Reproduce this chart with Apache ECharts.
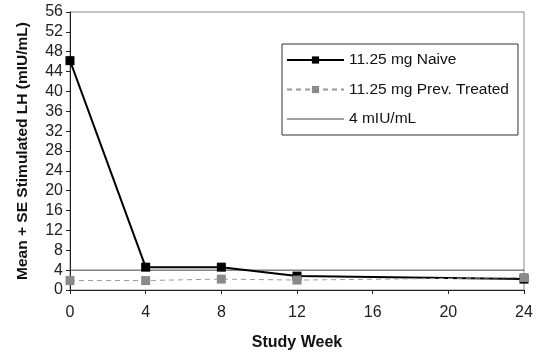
<!DOCTYPE html>
<html><head><meta charset="utf-8">
<script src="https://cdn.jsdelivr.net/npm/echarts@6/dist/echarts.min.js"></script>
<style>html,body{margin:0;padding:0;background:#fff}#c{width:542px;height:357px}</style>
</head><body><div id="c"></div>
<script>
const weeks = [0, 4, 8, 12, 24];
const naive = [46.2, 4.6, 4.6, 2.8, 2.2];
const prevTreated = [1.9, 1.9, 2.2, 2.0, 2.5];
const threshold = 4;
const yTicks = [0, 56, 4];
const xTicks = [0, 24, 4];

const chart = echarts.init(document.getElementById('c'));
const font = 'Liberation Sans, Arial, sans-serif';
chart.setOption({
  animation: false,
  textStyle: { fontFamily: font },
  grid: { left: 70, right: 18, top: 12, bottom: 67, show: true, borderColor: '#888', borderWidth: 1, outerBoundsMode: 'none', containLabel: false },
  legend: {
    orient: 'vertical', left: 282, top: 44,
    backgroundColor: '#fff', borderColor: '#333', borderWidth: 1,
    padding: [8, 9, 8, 4], itemWidth: 57, itemHeight: 9, itemGap: 13.5,
    textStyle: { fontSize: 15.5, color: '#111', fontFamily: font },
    data: ['11.25 mg Naive', '11.25 mg Prev. Treated',
      { name: '4 mIU/mL', icon: 'path://M0,0H57V1.2H0Z' }]
  },
  xAxis: {
    type: 'value', min: xTicks[0], max: xTicks[1], interval: xTicks[2],
    name: 'Study Week', nameLocation: 'middle', nameGap: 45,
    nameTextStyle: { fontSize: 16, fontWeight: 'bold', color: '#111' },
    axisLine: { lineStyle: { color: '#222', width: 1 } },
    axisTick: { length: 4, lineStyle: { color: '#222' } },
    axisLabel: { fontSize: 16, color: '#222', margin: 15 },
    splitLine: { show: false }
  },
  yAxis: {
    type: 'value', min: yTicks[0], max: yTicks[1], interval: yTicks[2],
    name: 'Mean + SE Stimulated LH (mIU/mL)', nameLocation: 'middle', nameGap: 39,
    nameTextStyle: { fontSize: 15.5, fontWeight: 'bold', color: '#111' },
    axisLine: { show: true, lineStyle: { color: '#222', width: 1 } },
    axisTick: { show: true, length: 4, lineStyle: { color: '#222' } },
    axisLabel: { fontSize: 16, color: '#222', margin: 7 },
    splitLine: { show: false }
  },
  series: [
    {
      name: '4 mIU/mL', type: 'line', symbol: 'none',
      data: [[xTicks[0], threshold], [xTicks[1], threshold]],
      lineStyle: { color: '#444', width: 1 }, itemStyle: { color: '#444' }, z: 1
    },
    {
      name: '11.25 mg Naive', type: 'line', symbol: 'rect', symbolSize: 9,
      data: weeks.map((w, i) => [w, naive[i]]),
      lineStyle: { color: '#000', width: 2 },
      itemStyle: { color: '#000' }, z: 2
    },
    {
      name: '11.25 mg Prev. Treated', type: 'line', symbol: 'rect', symbolSize: 9,
      data: weeks.map((w, i) => [w, prevTreated[i]]),
      lineStyle: { color: '#999', width: 1, type: [5, 4] },
      itemStyle: { color: '#8a8a8a' }, z: 3
    }
  ]
});
</script></body></html>
